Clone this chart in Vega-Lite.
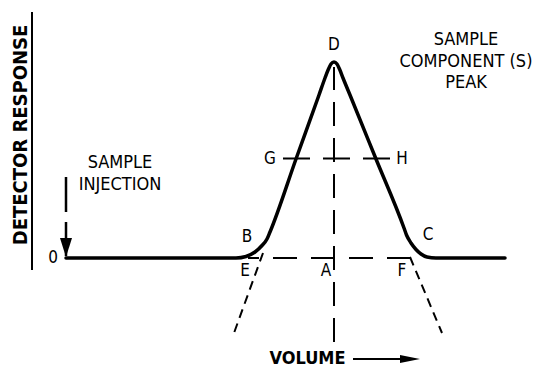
{
  "$schema": "https://vega.github.io/schema/vega-lite/v6.json",
  "width": 536,
  "height": 369,
  "autosize": {"type": "fit", "contains": "padding"},
  "padding": 0,
  "background": "white",
  "config": {"view": {"stroke": null}},
  "datasets": {
    "curve": [
      {"v": 0, "r": 0}, {"v": 170, "r": 0}, {"v": 180, "r": 1.5}, {"v": 189, "r": 6},
      {"v": 196, "r": 12.5}, {"v": 201, "r": 19}, {"v": 204, "r": 26}, {"v": 230, "r": 99},
      {"v": 253, "r": 163}, {"v": 259, "r": 180}, {"v": 262.5, "r": 189}, {"v": 265, "r": 194},
      {"v": 268, "r": 196}, {"v": 271, "r": 194}, {"v": 273.5, "r": 189}, {"v": 277, "r": 180},
      {"v": 284, "r": 163}, {"v": 310, "r": 99}, {"v": 338, "r": 30}, {"v": 340.5, "r": 23},
      {"v": 345, "r": 15}, {"v": 350, "r": 8.5}, {"v": 355, "r": 4}, {"v": 361, "r": 1},
      {"v": 370, "r": 0}, {"v": 439, "r": 0}
    ],
    "segments": [
      {"name": "axis", "v": -34, "r": -12, "v2": -34, "r2": 246},
      {"name": "AD", "v": 268, "r": -84, "v2": 268, "r2": 191},
      {"name": "GH", "v": 217, "r": 99.5, "v2": 324, "r2": 99.5},
      {"name": "EF", "v": 182, "r": 0, "v2": 344, "r2": 0},
      {"name": "tangent", "v": 197, "r": 5, "v2": 168, "r2": -75},
      {"name": "tangent", "v": 344, "r": 1, "v2": 376, "r2": -75},
      {"name": "injection", "v": 0, "r": 81, "v2": 0, "r2": 2},
      {"name": "volume", "v": 287, "r": -101, "v2": 339, "r2": -101}
    ],
    "heads": [
      {"name": "down", "v": 0, "r": 10.5},
      {"name": "right", "v": 344, "r": -101}
    ],
    "labels": [
      {"text": "D", "v": 268, "r": 213},
      {"text": "G", "v": 204, "r": 99},
      {"text": "H", "v": 336, "r": 99},
      {"text": "B", "v": 181, "r": 21},
      {"text": "C", "v": 362, "r": 23},
      {"text": "E", "v": 179, "r": -13},
      {"text": "A", "v": 260, "r": -13},
      {"text": "F", "v": 336, "r": -13},
      {"text": "0", "v": -13, "r": 0}
    ],
    "notes": [
      {"text": "SAMPLE", "v": 54, "r": 95},
      {"text": "INJECTION", "v": 54, "r": 73},
      {"text": "SAMPLE", "v": 400, "r": 218},
      {"text": "COMPONENT (S)", "v": 400, "r": 196.3},
      {"text": "PEAK", "v": 400, "r": 174.7}
    ],
    "titles": [
      {"text": "DETECTOR RESPONSE", "v": -45, "r": 123, "kind": "y"},
      {"text": "VOLUME", "v": 241.5, "r": -101, "kind": "x"}
    ]
  },
  "encoding": {
    "x": {"field": "v", "type": "quantitative", "scale": {"domain": [-66, 470], "nice": false, "zero": false}, "axis": null},
    "y": {"field": "r", "type": "quantitative", "scale": {"domain": [-111, 258], "nice": false, "zero": false}, "axis": null}
  },
  "layer": [
    {
      "data": {"name": "segments"},
      "transform": [{"filter": "datum.name === 'axis'"}],
      "mark": {"type": "rule", "color": "black", "strokeWidth": 2},
      "encoding": {"x2": {"field": "v2"}, "y2": {"field": "r2"}}
    },
    {
      "data": {"name": "segments"},
      "transform": [{"filter": "datum.name === 'AD'"}],
      "mark": {"type": "rule", "color": "black", "strokeWidth": 2, "strokeDash": [24, 12]},
      "encoding": {"x2": {"field": "v2"}, "y2": {"field": "r2"}}
    },
    {
      "data": {"name": "segments"},
      "transform": [{"filter": "datum.name === 'GH'"}],
      "mark": {"type": "rule", "color": "black", "strokeWidth": 2, "strokeDash": [27, 13]},
      "encoding": {"x2": {"field": "v2"}, "y2": {"field": "r2"}}
    },
    {
      "data": {"name": "segments"},
      "transform": [{"filter": "datum.name === 'EF'"}],
      "mark": {"type": "rule", "color": "black", "strokeWidth": 2, "strokeDash": [24, 14], "strokeDashOffset": 13},
      "encoding": {"x2": {"field": "v2"}, "y2": {"field": "r2"}}
    },
    {
      "data": {"name": "segments"},
      "transform": [{"filter": "datum.name === 'tangent'"}],
      "mark": {"type": "rule", "color": "black", "strokeWidth": 2, "strokeDash": [9, 6]},
      "encoding": {"x2": {"field": "v2"}, "y2": {"field": "r2"}}
    },
    {
      "data": {"name": "segments"},
      "transform": [{"filter": "datum.name === 'injection'"}],
      "mark": {"type": "rule", "color": "black", "strokeWidth": 2.5, "strokeDash": [35, 10]},
      "encoding": {"x2": {"field": "v2"}, "y2": {"field": "r2"}}
    },
    {
      "data": {"name": "segments"},
      "transform": [{"filter": "datum.name === 'volume'"}],
      "mark": {"type": "rule", "color": "black", "strokeWidth": 2},
      "encoding": {"x2": {"field": "v2"}, "y2": {"field": "r2"}}
    },
    {
      "data": {"name": "curve"},
      "mark": {"type": "line", "color": "black", "strokeWidth": 3.5, "interpolate": "monotone", "strokeCap": "round", "strokeJoin": "round"}
    },
    {
      "data": {"name": "heads"},
      "transform": [{"filter": "datum.name === 'down'"}],
      "mark": {"type": "point", "filled": true, "color": "black", "opacity": 1, "size": 400, "shape": "M-0.6,-0.95L0.6,-0.95L0,0.95Z"}
    },
    {
      "data": {"name": "heads"},
      "transform": [{"filter": "datum.name === 'right'"}],
      "mark": {"type": "point", "filled": true, "color": "black", "opacity": 1, "size": 400, "shape": "M-1,-0.4L1,0L-1,0.4Z"}
    },
    {
      "data": {"name": "labels"},
      "mark": {"type": "text", "font": "DejaVu Sans Condensed", "fontSize": 17, "color": "black", "align": "center", "baseline": "middle"},
      "encoding": {"text": {"field": "text"}}
    },
    {
      "data": {"name": "notes"},
      "mark": {"type": "text", "font": "DejaVu Sans Condensed", "fontSize": 18, "color": "black", "align": "center", "baseline": "middle"},
      "encoding": {"text": {"field": "text"}}
    },
    {
      "data": {"name": "titles"},
      "transform": [{"filter": "datum.kind === 'y'"}],
      "mark": {"type": "text", "font": "DejaVu Sans Condensed", "fontWeight": "bold", "fontSize": 20, "angle": 270, "color": "black", "align": "center", "baseline": "middle"},
      "encoding": {"text": {"field": "text"}}
    },
    {
      "data": {"name": "titles"},
      "transform": [{"filter": "datum.kind === 'x'"}],
      "mark": {"type": "text", "font": "DejaVu Sans Condensed", "fontWeight": "bold", "fontSize": 18, "color": "black", "align": "center", "baseline": "middle"},
      "encoding": {"text": {"field": "text"}}
    }
  ]
}
